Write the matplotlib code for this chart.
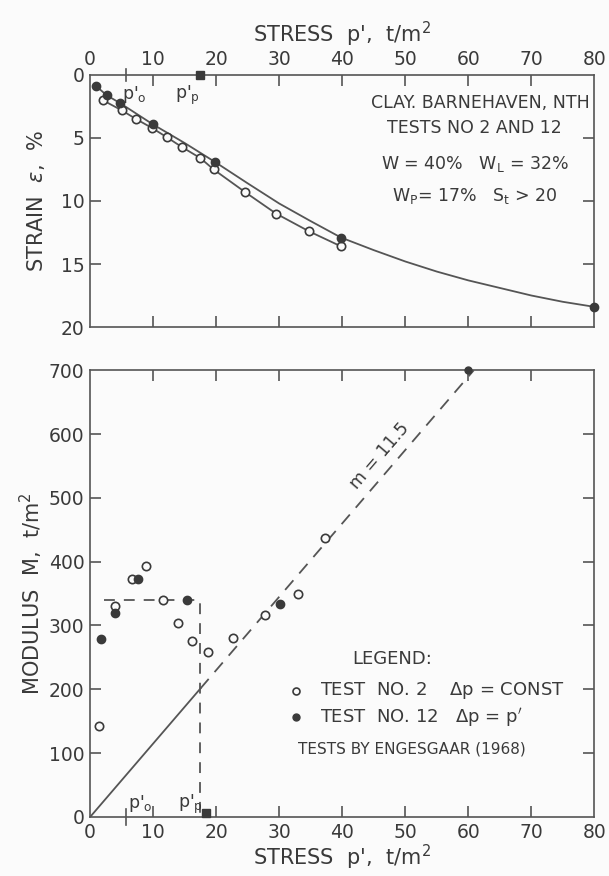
import numpy as np
import matplotlib
matplotlib.use('Agg')
import matplotlib.pyplot as plt

# Curva de compressão (ensaio 2 = círculos abertos, ensaio 12 = cheios)
stress_t2 = [2.0, 5.0, 7.3, 9.8, 12.2, 14.5, 17.5, 19.6, 24.6, 29.5, 34.7, 39.8]
strain_t2 = [2.0, 2.8, 3.5, 4.2, 4.95, 5.7, 6.6, 7.5, 9.3, 11.0, 12.4, 13.6]
stress_t12 = [1.0, 2.6, 4.8, 9.9, 19.8, 39.8]
strain_t12 = [0.9, 1.6, 2.25, 3.9, 6.9, 12.9]
# traçado da curva do ensaio 12 (inclui o trecho até 80 t/m2)
curva_stress = [1.0, 2.6, 4.8, 9.9, 15.0, 19.8, 25.0, 30.0, 35.0, 39.8,
                45.0, 50.0, 55.0, 60.0, 65.0, 70.0, 75.0, 80.0]
curva_strain = [0.9, 1.6, 2.25, 3.9, 5.4, 6.9, 8.6, 10.2, 11.6, 12.9,
                13.9, 14.8, 15.6, 16.3, 16.9, 17.5, 18.0, 18.4]

# Módulo
mod_stress_t2 = [1.4, 4.0, 6.7, 8.8, 11.6, 14.0, 16.2, 18.7, 22.6, 27.8, 33.0, 37.3]
mod_t2 = [142, 330, 373, 393, 340, 304, 275, 259, 280, 316, 350, 437]
mod_stress_t12 = [1.7, 4.0, 7.6, 15.3, 30.2]
mod_t12 = [279, 320, 373, 340, 334]

p0 = 5.7
pp = 17.5
m_num = 11.5
M_box = 340

COR = '#3a3a3a'
COR_LINHA = '#555555'
FUNDO = '#fbfbfb'
plt.rcParams['font.family'] = 'DejaVu Sans'
plt.rcParams['text.color'] = COR

fig = plt.figure(figsize=(6.09, 8.76), dpi=100)
fig.patch.set_facecolor(FUNDO)

ax1 = fig.add_axes([0.148, 0.6267, 0.828, 0.2877])
ax2 = fig.add_axes([0.148, 0.0674, 0.828, 0.510])

for ax in (ax1, ax2):
    ax.set_facecolor(FUNDO)
    for s in ax.spines.values():
        s.set_color(COR_LINHA)
        s.set_linewidth(1.2)
    ax.tick_params(direction='in', length=8, width=1.2, color=COR_LINHA,
                   labelsize=13.5, labelcolor=COR, pad=4)

# ---------------- painel superior ----------------
ax1.plot(stress_t2, strain_t2, color=COR_LINHA, lw=1.3, zorder=2)
ax1.plot(curva_stress, curva_strain, color=COR_LINHA, lw=1.3, zorder=2, clip_on=False)
ax1.plot(stress_t2, strain_t2, 'o', mfc=FUNDO, mec=COR, mew=1.2, ms=6, zorder=3)
ax1.plot(stress_t12, strain_t12, 'o', mfc=COR, mec=COR, ms=6, zorder=3)
ax1.plot([curva_stress[-1]], [curva_strain[-1]], 'o', color=COR, ms=6, clip_on=False, zorder=3)
ax1.plot([pp], [0], 's', color=COR, ms=6, clip_on=False, zorder=3)

ax1.set_xlim(0, 80)
ax1.set_ylim(20, 0)
ax1.set_xticks(range(0, 81, 10))
ax1.set_yticks(range(0, 21, 5))
ax1.xaxis.tick_top()
ax1.tick_params(axis='x', top=True, bottom=True, labeltop=True, labelbottom=False)
ax1.tick_params(axis='y', left=True, right=True)
ax1.xaxis.set_label_position('top')
ax1.set_xlabel("STRESS  p',  t/m$^2$", fontsize=15, color=COR, labelpad=6)
ax1.set_ylabel('STRAIN  $\\epsilon$,  %', fontsize=15, color=COR, labelpad=10)
for t in ax1.xaxis.get_major_ticks()[::8]:
    t.tick1line.set_visible(False)
    t.tick2line.set_visible(False)
for t in ax1.yaxis.get_major_ticks()[::4]:
    t.tick1line.set_visible(False)
    t.tick2line.set_visible(False)

ax1.plot([p0, p0], [-0.5, 0.5], color=COR_LINHA, lw=1.2, clip_on=False)
ax1.text(7.0, 1.9, "p$'_{\\mathrm{o}}$", fontsize=12.5, color=COR, ha='center')
ax1.text(15.5, 1.9, "p$'_{\\mathrm{p}}$", fontsize=12.5, color=COR, ha='center')

ax1.text(79.2, 2.2, 'CLAY. BARNEHAVEN, NTH', fontsize=12.5, ha='right', va='center')
ax1.text(61, 4.2, 'TESTS NO 2 AND 12', fontsize=12.5, ha='center', va='center')
ax1.text(61, 7.1, 'W = 40%   W$_\\mathrm{L}$ = 32%', fontsize=12.5, ha='center', va='center')
ax1.text(61, 9.6, 'W$_\\mathrm{P}$= 17%   S$_\\mathrm{t}$ > 20', fontsize=12.5, ha='center', va='center')

# ---------------- painel inferior ----------------
x_m = np.array([0, pp])
ax2.plot(x_m, m_num * x_m, color=COR_LINHA, lw=1.3, zorder=2)
x_d = np.array([pp, 700 / m_num])
ax2.plot(x_d, m_num * x_d, color=COR_LINHA, lw=1.3, ls=(0, (7, 5)), zorder=2)
ax2.plot([2.2, pp, pp], [M_box, M_box, 0], color=COR_LINHA, lw=1.3,
         ls=(0, (6, 5)), zorder=2)

ax2.plot(mod_stress_t2, mod_t2, 'o', mfc=FUNDO, mec=COR, mew=1.2, ms=6, zorder=3)
ax2.plot(mod_stress_t12, mod_t12, 'o', mfc=COR, mec=COR, ms=6, zorder=3)
ax2.plot([60], [700], 'o', color=COR, ms=5, clip_on=False, zorder=3)
ax2.plot([18.4], [6], 's', color=COR, ms=6, clip_on=False, zorder=3)

ax2.set_xlim(0, 80)
ax2.set_ylim(0, 700)
ax2.set_xticks(range(0, 81, 10))
ax2.set_yticks(range(0, 701, 100))
ax2.tick_params(axis='x', top=True, bottom=True)
ax2.tick_params(axis='y', left=True, right=True)
ax2.set_xlabel("STRESS  p',  t/m$^2$", fontsize=15, color=COR, labelpad=1)
ax2.set_ylabel('MODULUS  M,  t/m$^2$', fontsize=15, color=COR, labelpad=3)
for t in ax2.xaxis.get_major_ticks()[::8]:
    t.tick1line.set_visible(False)
    t.tick2line.set_visible(False)
for t in ax2.yaxis.get_major_ticks()[::7]:
    t.tick1line.set_visible(False)
    t.tick2line.set_visible(False)

ax2.plot([p0, p0], [-12, 12], color=COR_LINHA, lw=1.2, clip_on=False)
ax2.text(8.0, 14, "p$'_{\\mathrm{o}}$", fontsize=12.5, color=COR, ha='center')
ax2.text(16.0, 14, "p$'_{\\mathrm{p}}$", fontsize=12.5, color=COR, ha='center')

ang = np.degrees(np.arctan2(m_num * 447 / 700, 504 / 80))
ax2.text(46.0, 565, 'm = 11.5', fontsize=12.5, rotation=ang, ha='center', va='center',
         rotation_mode='anchor')

ax2.text(48, 247, 'LEGEND:', fontsize=13, ha='center', va='center')
ax2.plot([32.6], [198], 'o', mfc=FUNDO, mec=COR, mew=1.2, ms=5)
ax2.plot([32.6], [156], 'o', color=COR, ms=5)
ax2.text(36.5, 198, 'TEST  NO. 2    $\\Delta$p = CONST', fontsize=13, va='center')
ax2.text(36.5, 156, 'TEST  NO. 12   $\\Delta$p = p$\'$', fontsize=13, va='center')
ax2.text(33.0, 107, 'TESTS BY ENGESGAAR (1968)', fontsize=11, va='center')

fig.savefig('out.png', dpi=100, facecolor=fig.get_facecolor())
